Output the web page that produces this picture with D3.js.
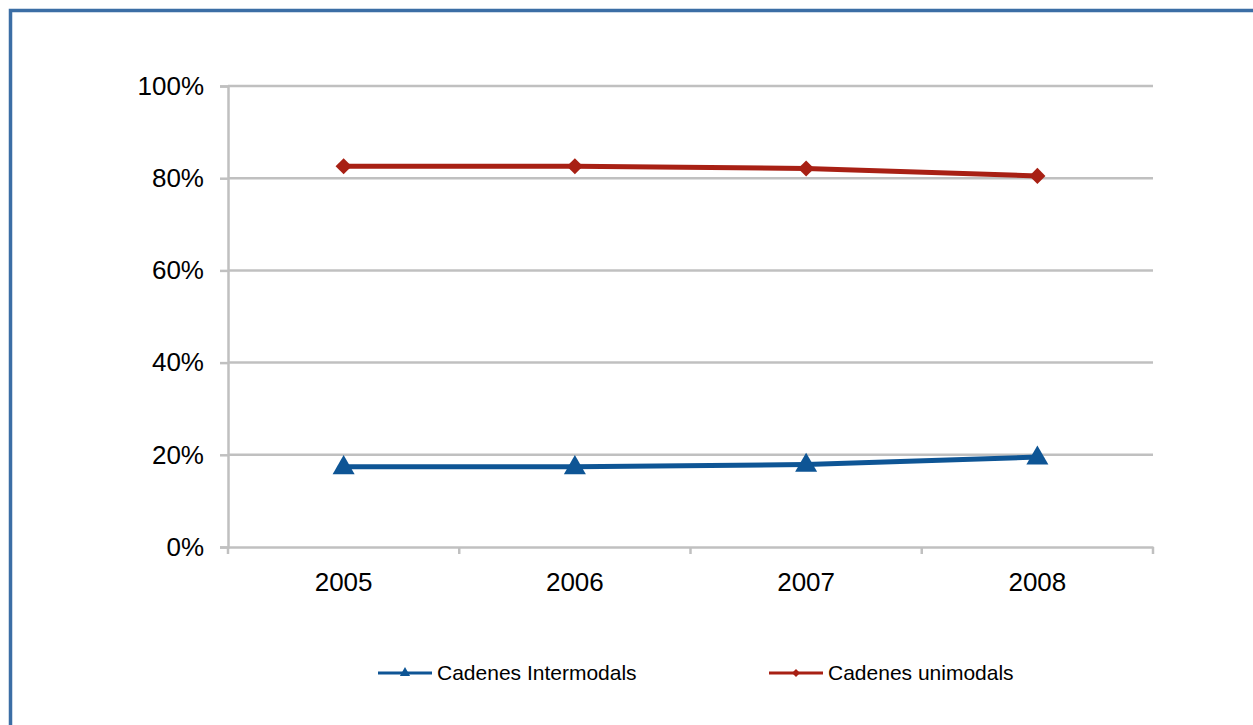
<!DOCTYPE html>
<html><head><meta charset="utf-8">
<script src="https://cdn.jsdelivr.net/npm/d3@7/dist/d3.min.js"></script>
<style>body{margin:0;background:#fff;}svg{display:block;font-family:"Liberation Sans",Arial,sans-serif;}</style>
</head><body>
<svg id="c" width="1253" height="725"></svg>
<script>
const categories = ["2005","2006","2007","2008"];
const intermodal = [17.4, 17.4, 17.9, 19.5];
const unimodal = [82.6, 82.6, 82.1, 80.5];
const yTicks = [0,20,40,60,80,100];
const seriesNames = ["Cadenes Intermodals","Cadenes unimodals"];
const colors = ["#0e5595","#a82014"];

const svg = d3.select("#c");
// frame
svg.append("path").attr("d","M10.5,725 L10.5,10.5 L1253,10.5")
  .attr("fill","none").attr("stroke","#3b6ea5").attr("stroke-width",3.5);

const L=228, R=1153, T=86, B=547;
const x = d3.scaleBand().domain(categories).range([L,R]);
const y = d3.scaleLinear().domain([0,100]).range([B,T]);

// gridlines
svg.append("g").selectAll("line").data(yTicks.filter(d=>d>0)).join("line")
  .attr("x1",L).attr("x2",R).attr("y1",d=>y(d)).attr("y2",d=>y(d))
  .attr("stroke","#c0c0c0").attr("stroke-width",2.5);

// y axis
const ya = svg.append("g").attr("transform",`translate(${L},0)`)
  .call(d3.axisLeft(y).tickValues(yTicks).tickFormat(d=>d+"%").tickSize(8).tickPadding(16));
ya.select(".domain").attr("stroke","#c0c0c0").attr("stroke-width",2.5);
ya.selectAll(".tick line").attr("stroke","#c0c0c0").attr("stroke-width",2.5);
ya.selectAll("text").attr("font-size",26).attr("fill","#000").attr("font-family","Liberation Sans, Arial, sans-serif");

// x axis
const xa = svg.append("g").attr("transform",`translate(0,${B})`)
  .call(d3.axisBottom(x).tickSize(0).tickPadding(26));
xa.select(".domain").attr("stroke","#c0c0c0").attr("stroke-width",2.5);
xa.selectAll("text").attr("font-size",26).attr("fill","#000").attr("font-family","Liberation Sans, Arial, sans-serif");
// category boundary ticks
const bounds = categories.map(c=>x(c)).concat([R]);
svg.append("g").selectAll("line").data(bounds).join("line")
  .attr("x1",d=>d).attr("x2",d=>d).attr("y1",B).attr("y2",B+7)
  .attr("stroke","#c0c0c0").attr("stroke-width",2.5);

const cx = c => x(c)+x.bandwidth()/2;
const line = d3.line().x((d,i)=>cx(categories[i])).y(d=>y(d));

// series
const tri = d3.symbol().type(d3.symbolTriangle);
const sq = d3.symbol().type(d3.symbolSquare);

svg.append("path").datum(unimodal).attr("d",line).attr("fill","none")
  .attr("stroke",colors[1]).attr("stroke-width",5).attr("stroke-linejoin","round");
svg.append("g").selectAll("path").data(unimodal).join("path")
  .attr("transform",(d,i)=>`translate(${cx(categories[i])},${y(d)}) rotate(45)`)
  .attr("d",sq.size(130)).attr("fill",colors[1]);

svg.append("path").datum(intermodal).attr("d",line).attr("fill","none")
  .attr("stroke",colors[0]).attr("stroke-width",5).attr("stroke-linejoin","round");
svg.append("g").selectAll("path").data(intermodal).join("path")
  .attr("transform",(d,i)=>`translate(${cx(categories[i])},${y(d)+1})`)
  .attr("d",tri.size(210)).attr("fill",colors[0]);

// legend
const leg = [{x:378, sym:tri.size(45), rot:0, c:colors[0], name:seriesNames[0]},
             {x:769, sym:sq.size(32), rot:45, c:colors[1], name:seriesNames[1]}];
const lg = svg.append("g");
leg.forEach(l=>{
  lg.append("line").attr("x1",l.x).attr("x2",l.x+54).attr("y1",673).attr("y2",673)
    .attr("stroke",l.c).attr("stroke-width",3);
  lg.append("path").attr("d",l.sym).attr("transform",`translate(${l.x+27},673) rotate(${l.rot})`).attr("fill",l.c);
  lg.append("text").attr("x",l.x+59).attr("y",673).attr("dy","0.35em")
    .attr("font-size",21).attr("fill","#000").text(l.name);
});
</script>
</body></html>
